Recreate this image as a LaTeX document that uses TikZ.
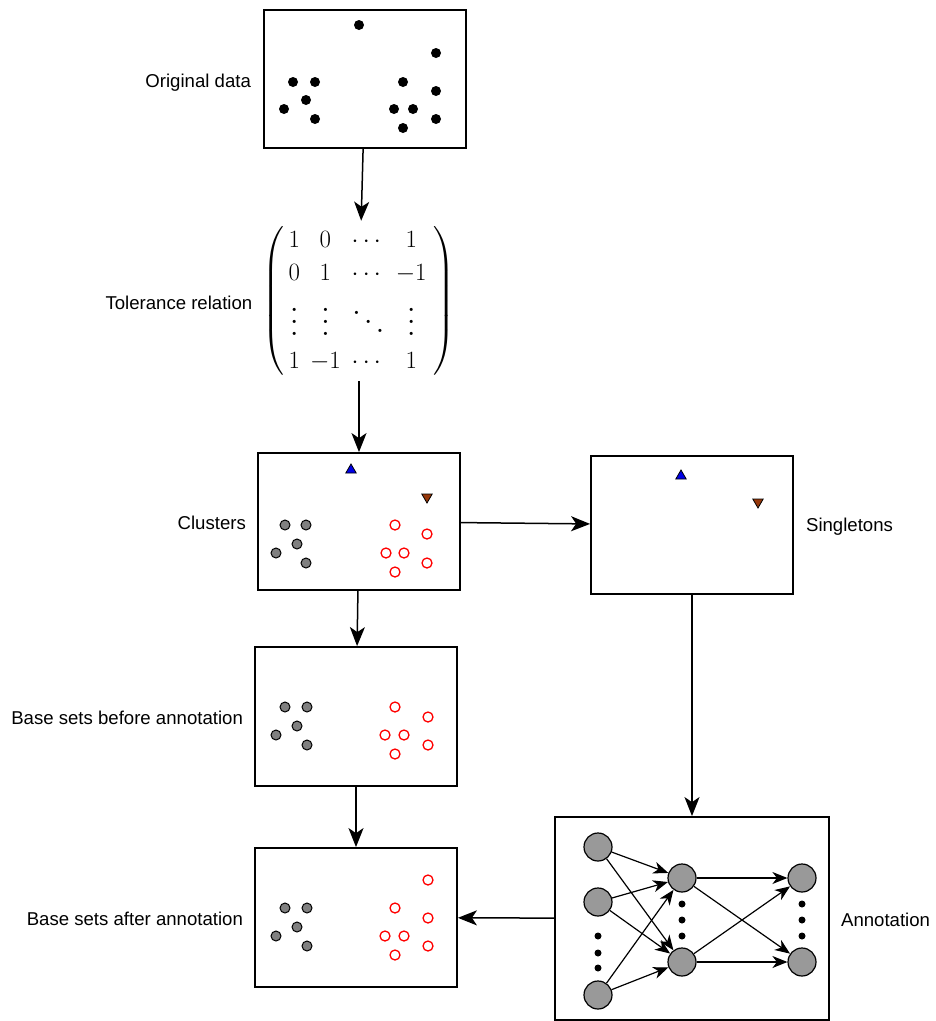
\documentclass[tikz,border=0pt]{standalone}
\usepackage{amsmath}
\usepackage{graphicx}
\usepackage{fontspec}
\newfontfamily\labelfont{Liberation Sans}
\usetikzlibrary{arrows.meta,positioning,shapes.geometric}
\definecolor{singblue}{RGB}{0,0,230}
\definecolor{singbrown}{RGB}{150,55,10}
\definecolor{neurongray}{RGB}{153,153,153}
\tikzset{
	panel/.style={draw, line width=1.8pt, minimum width=202pt, minimum height=138pt, inner sep=0pt},
	caption/.style={font=\labelfont\fontsize{18.6}{22}\selectfont, inner sep=0pt, yshift=-1.5pt},
	flow/.style={line width=1.5pt, -{Stealth[length=19pt,width=15pt,inset=5pt]}},
	link/.style={line width=1.2pt, -{Stealth[length=15pt,width=12pt,inset=4.5pt]}},
	neuron/.style={circle, draw, line width=1.2pt, fill=neurongray, minimum size=28pt, inner sep=0pt},
	uptri/.style={regular polygon, regular polygon sides=3, draw, line width=0.8pt, fill=singblue, minimum size=12pt, inner sep=0pt},
	downtri/.style={uptri, shape border rotate=180, fill=singbrown},
}
\def\blackdot(#1){\fill (#1) circle (5);}
\def\graydot(#1){\draw[line width=1pt, fill=gray] (#1) circle (5);}
\def\reddot(#1){\draw[line width=1.3pt, red, fill=white] (#1) circle (5);}
\def\smalldot(#1){\fill (#1) circle (3.5);}
\newcommand{\tallvdots}{\scalebox{3}{\fontsize{10}{12}\selectfont$\vdots$}}
\newcommand{\tallddots}{\scalebox{3}{\fontsize{10}{12}\selectfont$\ddots$}}

\begin{document}
\begin{tikzpicture}[x=1pt, y=-1pt]
			%%%%% START %%%%%
			\useasboundingbox (0, 0) rectangle (936, 1021);
			
			% panels
			\node[panel] (orig) at (365, 79) {};
			\node[inner sep=3pt] (tol) at (359, 301) {\fontsize{30}{33}\selectfont$\left(\,\begin{matrix}1 & 0 & \cdots & 1\\ 0 & 1 & \cdots & -1\\ \tallvdots & \tallvdots & \tallddots & \tallvdots\\ 1 & -1 & \cdots & 1\end{matrix}\;\right)$};
			\node[panel, minimum height=137pt] (clust) at (359, 521.5) {};
			\node[panel] (single) at (692, 525) {};
			\node[panel, minimum height=139pt] (before) at (356, 716.5) {};
			\node[panel, minimum height=139pt] (after) at (356, 917.5) {};
			\node[panel, minimum width=274pt, minimum height=203pt] (annot) at (692, 918.5) {};
			
			% labels
			\node[caption, left=12pt of orig, yshift=-2.5pt] (origlabel) {Original data};
			\node[caption, left=7pt of tol] (tollabel) {Tolerance relation};
			\node[caption, left=11pt of clust] (clustlabel) {Clusters};
			\node[caption, right=12pt of single] (singlelabel) {Singletons};
			\node[caption, left=11pt of before] (beforelabel) {Base sets before annotation};
			\node[caption, left=11pt of after] (afterlabel) {Base sets after annotation};
			\node[caption, right=11pt of annot] (annotlabel) {Annotation};
			
			% original data
			\blackdot(359, 25)
			\blackdot(436, 53)
			\blackdot(293, 82)
			\blackdot(315, 82)
			\blackdot(306, 100)
			\blackdot(284, 109)
			\blackdot(315, 119)
			\blackdot(403, 82)
			\blackdot(436, 91)
			\blackdot(394, 109)
			\blackdot(413, 109)
			\blackdot(436, 119)
			\blackdot(403, 128)
			
			% clusters
			\node[uptri] (cblue) at (351, 470) {};
			\node[downtri] (cbrown) at (427, 497) {};
			\graydot(285, 525)
			\graydot(306, 525)
			\graydot(297, 544)
			\graydot(276, 553)
			\graydot(306, 563)
			\reddot(395, 525)
			\reddot(427, 534)
			\reddot(386, 553)
			\reddot(404, 553)
			\reddot(427, 563)
			\reddot(395, 572)
			
			% singletons
			\node[uptri] (sblue) at (681, 476) {};
			\node[downtri] (sbrown) at (758, 502) {};
			
			% base sets before annotation
			\graydot(285, 707)
			\graydot(307, 707)
			\graydot(297, 726)
			\graydot(276, 735)
			\graydot(307, 745)
			\reddot(395, 707)
			\reddot(428, 717)
			\reddot(385, 735)
			\reddot(404, 735)
			\reddot(428, 745)
			\reddot(395, 754)
			
			% base sets after annotation
			\graydot(285, 908)
			\graydot(307, 908)
			\graydot(297, 927)
			\graydot(276, 936)
			\graydot(307, 946)
			\reddot(428, 880)
			\reddot(395, 908)
			\reddot(428, 918)
			\reddot(385, 936)
			\reddot(404, 936)
			\reddot(428, 946)
			\reddot(395, 955)
			
			% annotation network
			\node[neuron] (in1) at (598, 847) {};
			\node[neuron] (in2) at (598, 902) {};
			\node[neuron] (in3) at (598, 995) {};
			\node[neuron] (hid1) at (682, 878) {};
			\node[neuron] (hid2) at (682, 962) {};
			\node[neuron] (out1) at (802, 878) {};
			\node[neuron] (out2) at (802, 962) {};
			\smalldot(598, 936)
			\smalldot(598, 953)
			\smalldot(598, 968)
			\smalldot(682, 904)
			\smalldot(682, 920)
			\smalldot(682, 936)
			\smalldot(802, 904)
			\smalldot(802, 920)
			\smalldot(802, 936)
			\draw[link] (in1) -- (hid1);
			\draw[link] (in1) -- (hid2);
			\draw[link] (in2) -- (hid1);
			\draw[link] (in2) -- (hid2);
			\draw[link] (in3) -- (hid1);
			\draw[link] (in3) -- (hid2);
			\draw[link] (hid1) -- (out1);
			\draw[link] (hid1) -- (out2);
			\draw[link] (hid2) -- (out1);
			\draw[link] (hid2) -- (out2);
			
			% flow
			\draw[flow] (orig) -- (tol);
			\draw[flow] (tol) -- (clust);
			\draw[flow] (clust) -- (single);
			\draw[flow] (clust) -- (before);
			\draw[flow] (before) -- (after);
			\draw[flow] (single) -- (annot);
			\draw[flow] (annot) -- (after);
			%%%%% END %%%%%
\end{tikzpicture}
\end{document}
